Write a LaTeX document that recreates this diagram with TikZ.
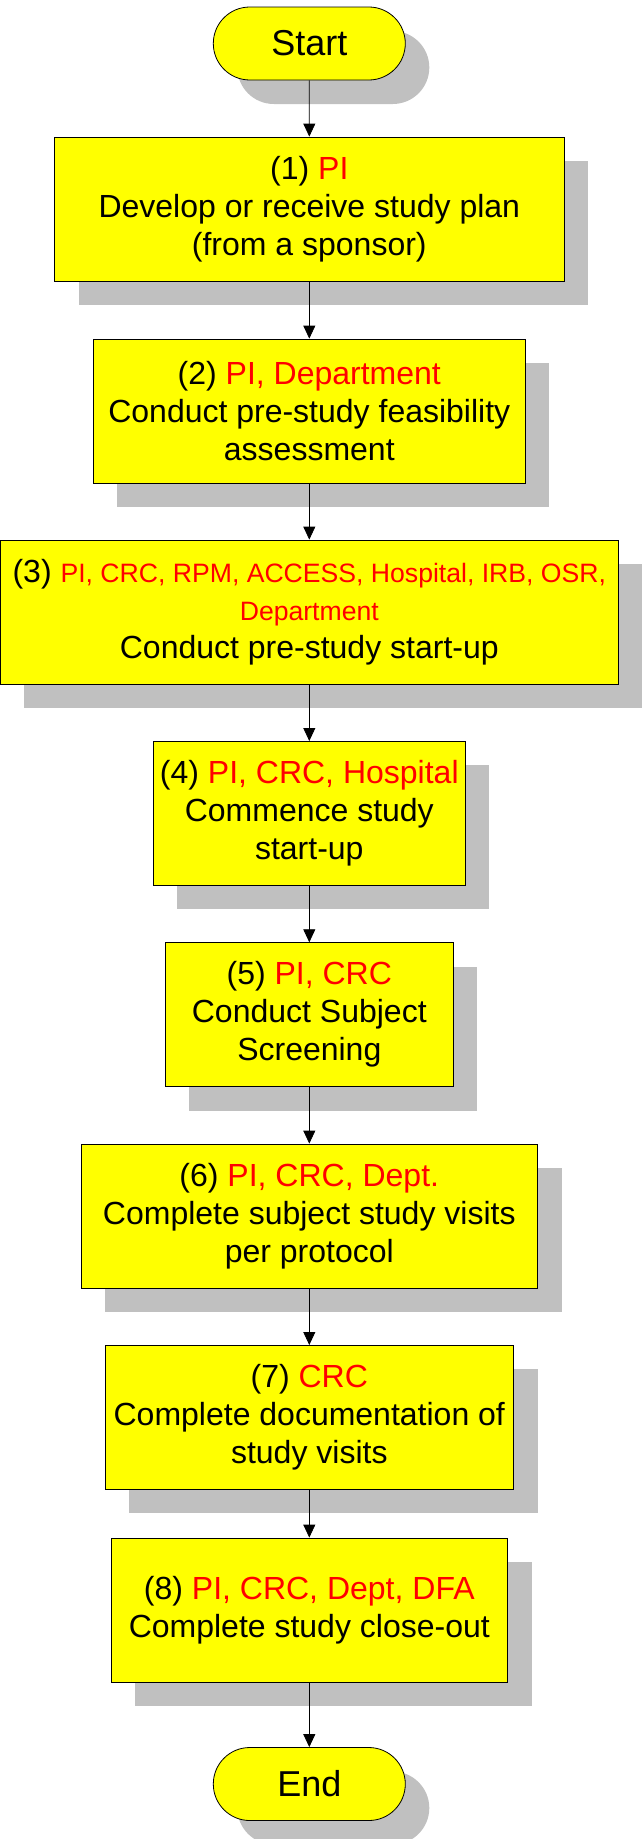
\documentclass[tikz,border=0pt]{standalone}
\usepackage{fontspec}
\setmainfont{Liberation Sans}
\usetikzlibrary{arrows.meta,shapes.misc,shadows}
\definecolor{boxyellow}{RGB}{255,255,0}
\definecolor{shadowgray}{RGB}{192,192,192}
\definecolor{rolered}{RGB}{255,0,0}
\newcommand\rolecol[1]{\textcolor{rolered}{#1}}
\newcommand\smallrole[1]{{\fontsize{26.6}{38}\selectfont\textcolor{rolered}{#1}}}
\begin{document}
\begin{tikzpicture}[x=1pt,y=-1pt,
  myshadow/.style={drop shadow={shadow xshift=24pt,shadow yshift=-24pt,fill=shadowgray,opacity=1}},
  stepbox/.style={draw=black, line width=0.8pt, fill=boxyellow, rectangle,
    minimum height=144pt, inner sep=0pt, align=center,
    font=\fontsize{32}{38}\selectfont, myshadow},
  termbox/.style={draw=black, line width=0.8pt, fill=boxyellow, rounded rectangle,
    minimum width=192pt, minimum height=73pt, inner sep=0pt,
    font=\fontsize{36}{40}\selectfont, myshadow},
  flow/.style={line width=0.8pt, -{Triangle[length=13pt,width=12pt]}}]
\useasboundingbox (0,0) rectangle (642,1839);

\node[termbox] (start) at (309.3,43.5) {Start};
\node[stepbox, minimum width=509.5pt] (s1) at (309.3,209)
  {(1) \rolecol{PI}\\Develop or receive study plan\\(from a sponsor)};
\node[stepbox, minimum width=432pt] (s2) at (309.3,411)
  {(2) \rolecol{PI, Department}\\Conduct pre-study feasibility\\assessment};
\node[stepbox, minimum width=618pt] (s3) at (309.3,612)
  {(3) \smallrole{PI, CRC, RPM, ACCESS, Hospital, IRB, OSR,}\\\smallrole{Department}\\Conduct pre-study start-up};
\node[stepbox, minimum width=312pt] (s4) at (309.3,813.4)
  {(4) \rolecol{PI, CRC, Hospital}\\Commence study\\start-up};
\node[stepbox, minimum width=288pt] (s5) at (309.3,1014.7)
  {(5) \rolecol{PI, CRC}\\Conduct Subject\\Screening};
\node[stepbox, minimum width=456.7pt] (s6) at (309.3,1216)
  {(6) \rolecol{PI, CRC, Dept.}\\Complete subject study visits\\per protocol};
\node[stepbox, minimum width=408.5pt] (s7) at (309.3,1417.4)
  {(7) \rolecol{CRC}\\Complete documentation of\\study visits};
\node[stepbox, minimum width=396.4pt] (s8) at (309.3,1610)
  {(8) \rolecol{PI, CRC, Dept, DFA}\\Complete study close-out};
\node[termbox] (end) at (309.3,1784) {End};

\draw[flow] (start) -- (s1);
\draw[flow] (s1) -- (s2);
\draw[flow] (s2) -- (s3);
\draw[flow] (s3) -- (s4);
\draw[flow] (s4) -- (s5);
\draw[flow] (s5) -- (s6);
\draw[flow] (s6) -- (s7);
\draw[flow] (s7) -- (s8);
\draw[flow] (s8) -- (end);
\end{tikzpicture}
\end{document}
